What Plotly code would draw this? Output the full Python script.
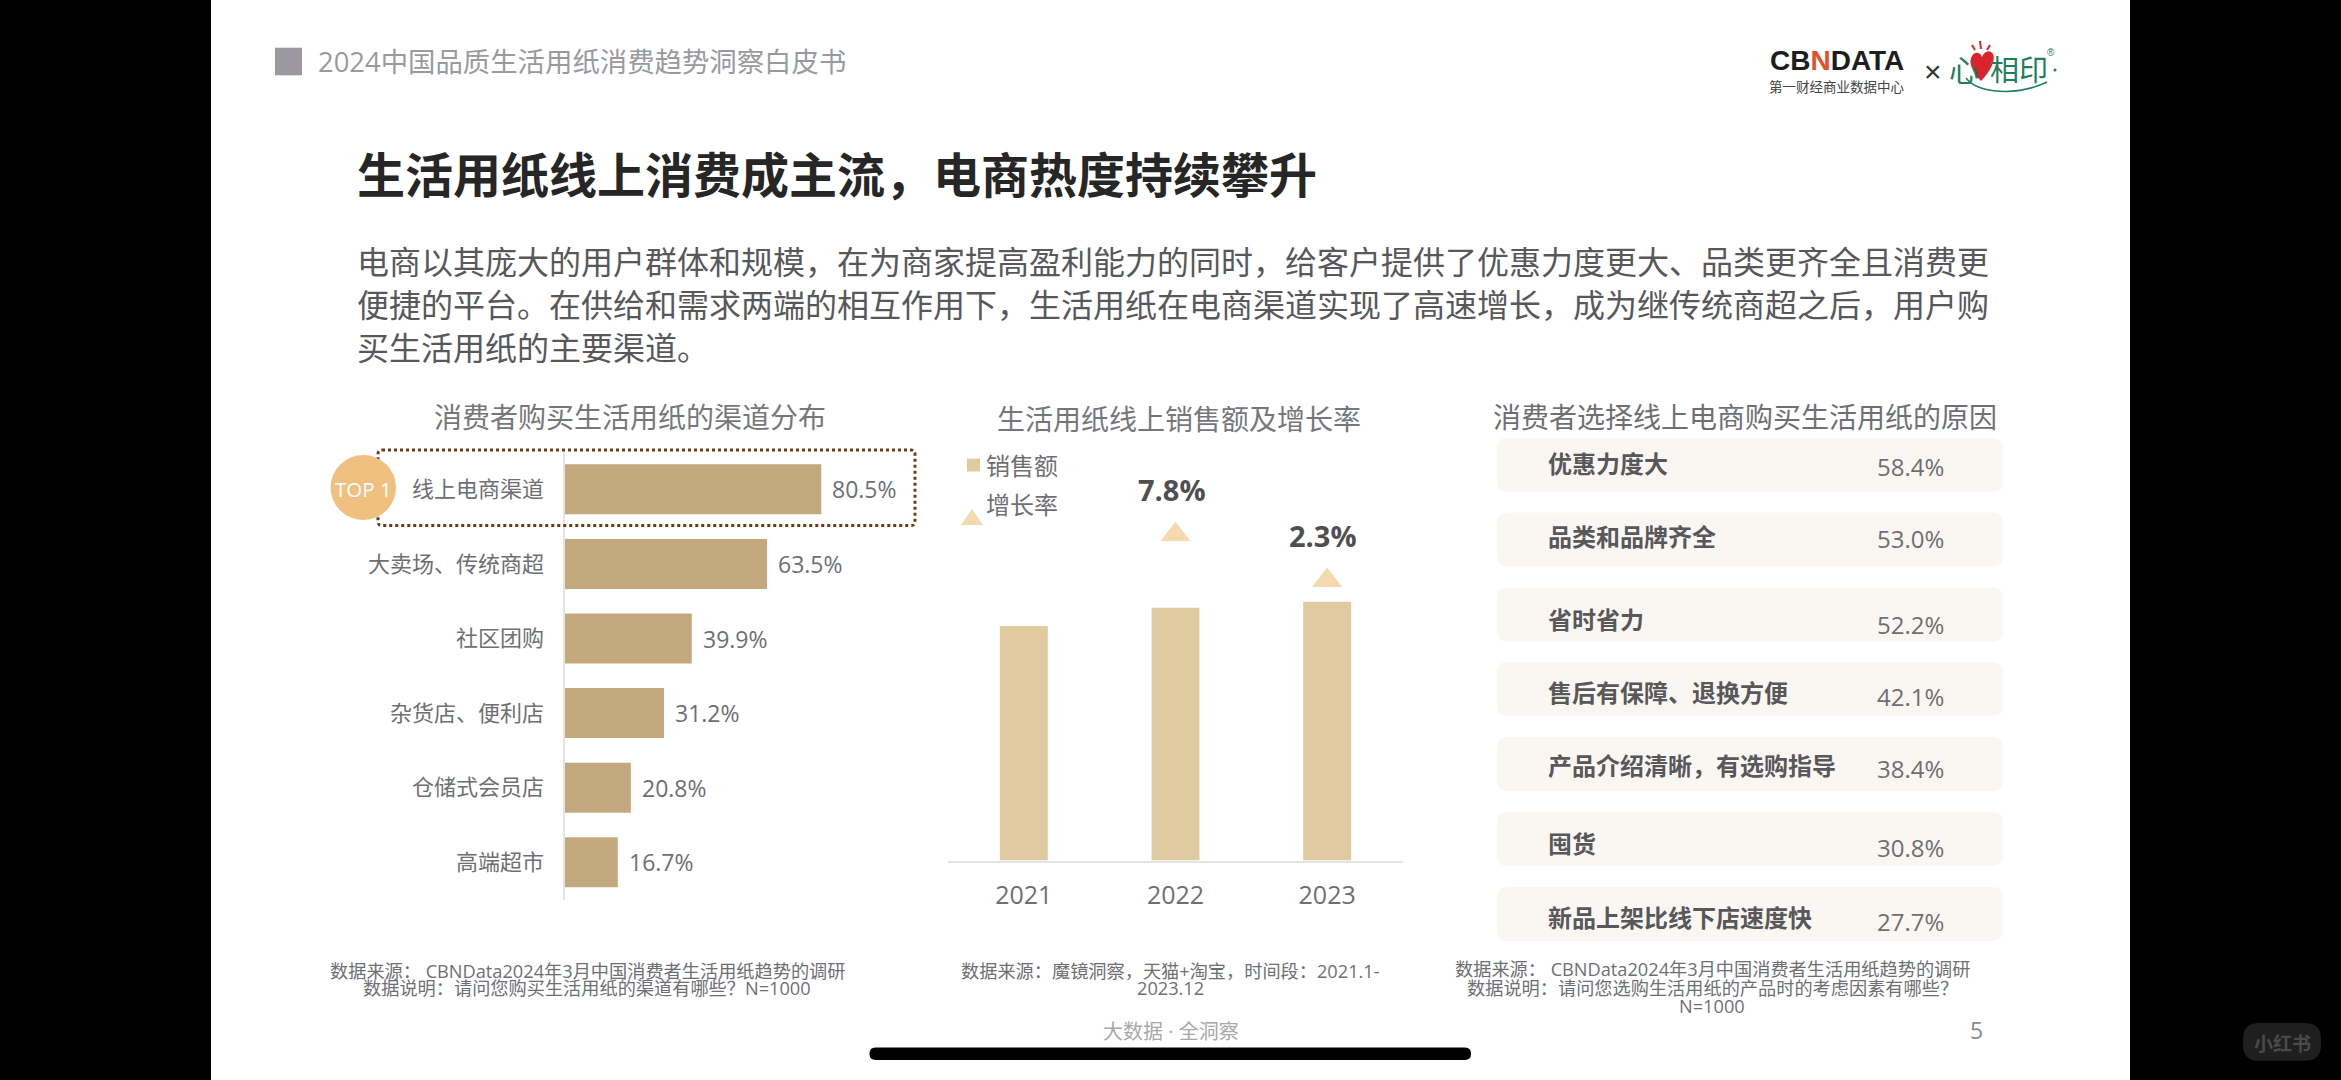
import plotly.graph_objects as go

W, H = 2341, 1080
CJK = "Noto Sans CJK SC"
UI = f"Open Sans, {CJK}"

# Purchase channels (share of respondents, %)
channels = ["线上电商渠道", "大卖场、传统商超", "社区团购", "杂货店、便利店", "仓储式会员店", "高端超市"]
channel_share = [80.5, 63.5, 39.9, 31.2, 20.8, 16.7]

# Online sales (index, 2021 = 100) and year-on-year growth (%)
years = ["2021", "2022", "2023"]
sales_index = [100, 107.8, 110.3]
growth_years = ["2022", "2023"]
growth_rate = [7.8, 2.3]

# Reasons for choosing online retail (%)
reasons = ["优惠力度大", "品类和品牌齐全", "省时省力", "售后有保障、退换方便",
           "产品介绍清晰，有选购指导", "囤货", "新品上架比线下店速度快"]
reason_share = [58.4, 53.0, 52.2, 42.1, 38.4, 30.8, 27.7]

# Text blocks
header = "2024中国品质生活用纸消费趋势洞察白皮书"
headline = "生活用纸线上消费成主流，电商热度持续攀升"
body_lines = ["电商以其庞大的用户群体和规模，在为商家提高盈利能力的同时，给客户提供了优惠力度更大、品类更齐全且消费更",
              "便捷的平台。在供给和需求两端的相互作用下，生活用纸在电商渠道实现了高速增长，成为继传统商超之后，用户购",
              "买生活用纸的主要渠道。"]
chart_titles = ["消费者购买生活用纸的渠道分布", "生活用纸线上销售额及增长率", "消费者选择线上电商购买生活用纸的原因"]
notes_left = ["数据来源： CBNData2024年3月中国消费者生活用纸趋势的调研", "数据说明：请问您购买生活用纸的渠道有哪些？N=1000"]
notes_mid = ["数据来源：魔镜洞察，天猫+淘宝，时间段：2021.1-", "2023.12"]
notes_right = ["数据来源： CBNData2024年3月中国消费者生活用纸趋势的调研", "数据说明：请问您选购生活用纸的产品时的考虑因素有哪些？", "N=1000"]

# Layout constants (page pixels)
BAR_LEFT = "#C4A97F"
BAR_MID = "#E0CBA0"
TRI = "#F5D9B0"
GREY = "#6F6F73"
GREEN = "#1F7F5C"
RED = "#D9232E"
row_tops = [438, 512.5, 587.5, 662, 737, 812, 887]
row_label_y = [462.5, 535, 618.5, 691.5, 764, 842, 916.5]
row_value_y = [466.8, 539, 624.6, 696, 768.6, 847, 921]


def px(x):
    return x / W


def py(y):
    return 1 - y / H


def dom_x(a, b):
    return [px(a), px(b)]


def dom_y(top, bottom):
    return [py(bottom), py(top)]


def note(x, y, text, size, color, anchor="center", bold=False, family=UI):
    return dict(x=px(x), y=py(y), xref="paper", yref="paper", text=f"<b>{text}</b>" if bold else text,
                showarrow=False, xanchor=anchor, yanchor="middle", borderpad=0,
                font=dict(size=size, color=color, family=family))


def pth(d):
    # d: list of (command, (x, y), ...) in page pixels
    out = []
    for item in d:
        out.append(item[0] + " ".join(f"{px(x):.6f},{py(y):.6f}" for x, y in item[1:]))
    return " ".join(out) + ""


def rounded(x0, y0, x1, y1, r):
    return pth([("M", (x0 + r, y0)), ("L", (x1 - r, y0)), ("Q", (x1, y0), (x1, y0 + r)),
                ("L", (x1, y1 - r)), ("Q", (x1, y1), (x1 - r, y1)), ("L", (x0 + r, y1)),
                ("Q", (x0, y1), (x0, y1 - r)), ("L", (x0, y0 + r)), ("Q", (x0, y0), (x0 + r, y0))]) + " Z"


def box(x0, y0, x1, y1, fill, kind="rect", layer="below"):
    return dict(type=kind, xref="paper", yref="paper", x0=px(x0), x1=px(x1), y0=py(y0), y1=py(y1),
                fillcolor=fill, line=dict(width=0), layer=layer)


def path_shape(d, fill=None, line=None, width=0, layer="above", dash=None):
    ln = dict(width=width, color=line or "rgba(0,0,0,0)")
    if dash:
        ln["dash"] = dash
    return dict(type="path", xref="paper", yref="paper", path=d, layer=layer,
                fillcolor=fill or "rgba(0,0,0,0)", line=ln)


fig = go.Figure()

fig.add_trace(go.Bar(x=channel_share, y=channels, orientation="h", marker=dict(color=BAR_LEFT, line=dict(width=0)),
                     xaxis="x", yaxis="y", showlegend=False))
fig.add_trace(go.Bar(x=years, y=sales_index, width=0.316, marker=dict(color=BAR_MID, line=dict(width=0)),
                     xaxis="x2", yaxis="y2", showlegend=False, name="销售额"))
fig.add_trace(go.Scatter(x=growth_years, y=growth_rate, mode="markers", xaxis="x2", yaxis="y3", showlegend=False,
                         name="增长率", marker=dict(symbol="triangle-up", size=26, color=TRI, line=dict(width=0))))

annotations = [
    note(317, 62, header, 27.4, "#9A9A9E", "left"),
    note(356, 171.5, headline, 48, "#262626", "left", True, CJK),
    note(629.6, 417, chart_titles[0], 28, "#77777B"),
    note(1179, 418.7, chart_titles[1], 28, "#77777B"),
    note(1745, 416.8, chart_titles[2], 28, "#6F6F73"),
    note(363, 488.7, "TOP 1", 20.5, "#FFFFFF"),
    note(985, 465, "销售额", 24, GREY, "left"),
    note(985, 505, "增长率", 24, GREY, "left"),
    note(1171, 1031.7, "大数据 · 全洞察", 20, "#A8A8A8"),
    note(1976, 1030, "5", 23, "#8A8A8A"),
    note(2282, 1042, "小红书", 19, "#4A4A4A", bold=True, family=CJK),
    # Partner marks in the header
    note(1836.5, 61, "CB<span style='color:#E0522A'>N</span>DATA", 28, "#1E1E1E", bold=True, family="Liberation Sans"),
    note(1836.5, 87, "第一财经商业数据中心", 13.5, "#444444"),
    note(1932.7, 71, "×", 30, "#333333", family="Liberation Sans"),
    note(1964, 68, "心", 30, GREEN, family=CJK),
    note(2019, 68, "相印", 29, GREEN, family=CJK),
    note(2051, 52, "®", 10, GREEN, family="Liberation Sans"),
]
for y, line, size in zip([260, 303, 346], body_lines, [32, 32, 32]):
    annotations.append(note(356, y, line, size, "#58585B", "left", family=CJK))
for y, line in zip([970.7, 987.7], notes_left):
    annotations.append(note(587, y, line, 18.2, GREY))
for y, line in zip([970.7, 987.7], notes_mid):
    annotations.append(note(1170, y, line, 18.2, GREY))
for y, line in zip([969, 988, 1006], notes_right):
    annotations.append(note(1712, y, line, 18.2, GREY))

# Value labels beside the channel bars
for name, v in zip(channels, channel_share):
    annotations.append(dict(x=v, y=name, xref="x", yref="y", text=f"{v:.1f}%", showarrow=False, xanchor="left",
                            xshift=10, borderpad=0, font=dict(size=23, color=GREY, family=UI)))
# Growth labels above the triangles
for yr, v in zip(growth_years, growth_rate):
    annotations.append(dict(x=years.index(yr), y=v, xref="x2", yref="y3", text=f"<b>{v:.1f}%</b>", showarrow=False,
                            xshift=-4, yshift=45, borderpad=0, font=dict(size=29, color="#4F4F52", family=UI)))
# Reason rows
for name, v, ly, vy in zip(reasons, reason_share, row_label_y, row_value_y):
    annotations.append(note(1547, ly, name, 24, "#58585B", "left", True, CJK))
    annotations.append(note(1876, vy, f"{v:.1f}%", 24, GREY, "left"))

shapes = [box(211, 0, 2130, H, "#FFFFFF"), box(275, 47.7, 302, 75.3, "#9C98A0")]
for top in row_tops:
    shapes.append(path_shape(rounded(1497, top, 2003, top + 54, 11), fill="#FAF7F2", layer="below"))
shapes += [
    path_shape(rounded(378, 450, 915, 525.6, 4), line="#6E3B17", width=3, dash="3px,3px"),
    box(330.6, 455, 396, 520, "#EFC07F", "circle", "above"),
    box(967, 458.6, 980, 471.5, BAR_MID, "rect", "above"),
    path_shape(pth([("M", (961, 525)), ("L", (983, 525)), ("L", (972, 509))]) + " Z", fill=TRI),
    path_shape(rounded(869.5, 1047.5, 1471, 1060, 6), fill="#000000"),
    path_shape(rounded(2243, 1023, 2321, 1060.7, 16), fill="#1F1F1F", layer="below"),
    # Heart, rays and sweep of the partner mark
    path_shape(pth([("M", (1981, 81)), ("C", (1972, 72), (1968, 62), (1972, 56)), ("C", (1975, 51), (1980, 52), (1982, 57)),
                    ("C", (1984, 51), (1990, 49), (1993, 54)), ("C", (1996, 60), (1990, 72), (1981, 81))]) + " Z", fill=RED),
    path_shape(pth([("M", (1980, 41)), ("L", (1981, 49))]), line=RED, width=2),
    path_shape(pth([("M", (1972, 45)), ("L", (1975, 50))]), line=RED, width=2),
    path_shape(pth([("M", (1990, 45)), ("L", (1987, 50))]), line=RED, width=2),
    path_shape(pth([("M", (1966, 78)), ("C", (1978, 94), (2018, 96), (2047, 82))]), line=GREEN, width=1.5),
    box(2053.5, 68.5, 2056.5, 71.5, GREEN, "circle", "above"),
]

fig.update_layout(
    width=W, height=H, margin=dict(l=0, r=0, t=0, b=0), paper_bgcolor="#000000", plot_bgcolor="rgba(0,0,0,0)",
    showlegend=False, bargap=0.33, annotations=annotations, shapes=shapes,
    font=dict(family=UI, color=GREY),
    xaxis=dict(domain=dom_x(564.5, 960), range=[0, 124], visible=False, fixedrange=True),
    yaxis=dict(domain=dom_y(452, 899.6), type="category", categoryorder="array", categoryarray=channels,
               autorange="reversed", anchor="x", showline=True, linecolor="#E4E4E4", linewidth=2, showgrid=False,
               ticks="", ticklabelstandoff=14, tickfont=dict(size=22, color=GREY, family=UI), zeroline=False),
    xaxis2=dict(domain=dom_x(948, 1403), type="category", categoryorder="array", categoryarray=years,
                range=[-0.5, 2.5], anchor="y2", showline=True, linecolor="#E4E4E4", linewidth=2,
                ticks="", showgrid=False, tickfont=dict(size=25, color=GREY, family=UI), ticklabelstandoff=11),
    yaxis2=dict(domain=dom_y(440, 860.5), range=[0, 179.3], anchor="x2", visible=False),
    yaxis3=dict(domain=dom_y(440, 860.5), range=[-31.2, 19.1], overlaying="y2", anchor="x2", visible=False),
)

fig.write_html("out.html")
